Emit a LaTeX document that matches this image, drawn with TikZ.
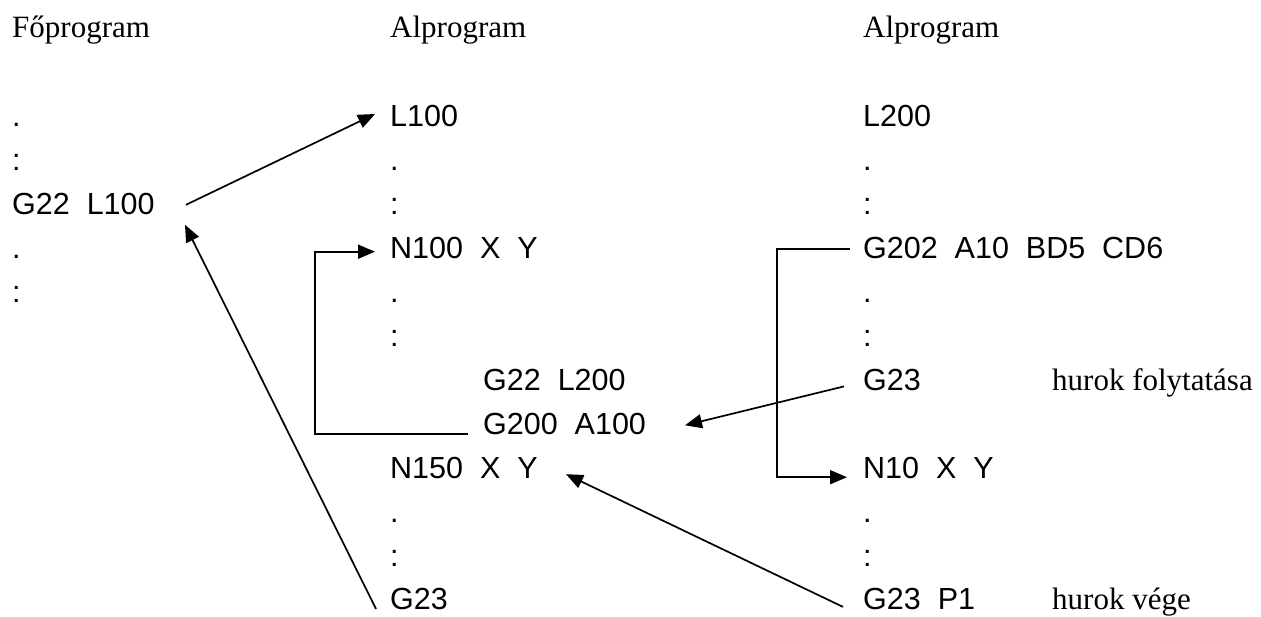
\documentclass[tikz,border=0pt]{standalone}
\usepackage{fontspec}
\setmainfont{Liberation Serif}
\setsansfont{Liberation Sans}
\usetikzlibrary{arrows.meta,calc}
\begin{document}
\begin{tikzpicture}[x=1pt,y=-1pt,
  code/.style={anchor=base west,inner sep=0pt,font=\sffamily\fontsize{30.5}{36}\selectfont},
  head/.style={anchor=base west,inner sep=0pt,font=\rmfamily\fontsize{31}{36}\selectfont},
  arr/.style={-{Triangle[length=17pt,width=14pt]},line width=1.7pt},
  ln/.style={line width=1.7pt}]
\useasboundingbox (0,0) rectangle (1261,617);
% headers
\node[head] (fo) at (12,38) {Főprogram};
\node[head] (alp1) at (390,38) {Alprogram};
\node[head] (alp2) at (863,38) {Alprogram};
% main program
\node[code] (l1) at (12,127) {.};
\node[code] (l2) at (12,170.9) {:};
\node[code] (l3) at (12,214.8) {G22~~L100};
\node[code] (l4) at (12,258.7) {.};
\node[code] (l5) at (12,302.6) {:};
% first subprogram
\node[code] (m1) at (390,127) {L100};
\node[code] (m2) at (390,170.9) {.};
\node[code] (m3) at (390,214.8) {:};
\node[code] (m4) at (390,258.7) {N100~~X~~Y};
\node[code] (m5) at (390,302.6) {.};
\node[code] (m6) at (390,346.5) {:};
\node[code] (m7) at (483,390.4) {G22~~L200};
\node[code] (m8) at (483,434.3) {G200~~A100};
\node[code] (m9) at (390,478.2) {N150~~X~~Y};
\node[code] (m10) at (390,522.1) {.};
\node[code] (m11) at (390,566) {:};
\node[code] (m12) at (390,609.9) {G23};
% second subprogram
\node[code] (r1) at (863,127) {L200};
\node[code] (r2) at (863,170.9) {.};
\node[code] (r3) at (863,214.8) {:};
\node[code] (r4) at (863,258.7) {G202~~A10~~BD5~~CD6};
\node[code] (r5) at (863,302.6) {.};
\node[code] (r6) at (863,346.5) {:};
\node[code] (r7) at (863,390.4) {G23};
\node[code] (r8) at (863,478.2) {N10~~X~~Y};
\node[code] (r9) at (863,522.1) {.};
\node[code] (r10) at (863,566) {:};
\node[code] (r11) at (863,609.9) {G23~~P1};
\node[head] (hf) at (1052,390.4) {hurok folytatása};
\node[head] (hv) at (1052,609.9) {hurok vége};
% connectors
\draw[arr] ($(l3.base west)+(174,-10)$) -- ($(m1.base west)+(-15,-13)$);
\draw[arr] ($(m12.base west)+(-14,-1)$) -- ($(l3.base west)+(173,10)$);
\draw[arr] ($(m8.base west)+(-15,0)$) -- ++(-153,0) |- ($(m4.base west)+(-15,-7)$);
\draw[arr] ($(r4.base west)+(-13,-10)$) -- ++(-73,0) |- ($(r8.base west)+(-16,-1)$);
\draw[arr] ($(r7.base west)+(-19,-4)$) -- ($(m8.base west)+(202,-9)$);
\draw[arr] ($(r11.base west)+(-20,-3)$) -- ($(m9.base west)+(176,-4)$);
\end{tikzpicture}
\end{document}
